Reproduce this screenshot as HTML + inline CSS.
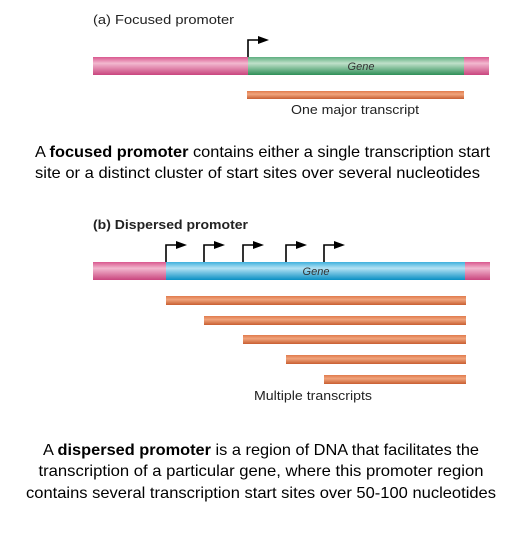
<!DOCTYPE html>
<html><head><meta charset="utf-8"><style>body{margin:0;background:#fff}svg{display:block}</style></head><body>
<svg width="522" height="536" viewBox="0 0 522 536" xmlns="http://www.w3.org/2000/svg" font-family="Liberation Sans, sans-serif">
<defs>
<linearGradient id="pk" x1="0" y1="0" x2="0" y2="1"><stop offset="0" stop-color="#d9588f"/><stop offset="0.35" stop-color="#f2b8cf"/><stop offset="1" stop-color="#c9457e"/></linearGradient>
<linearGradient id="gr" x1="0" y1="0" x2="0" y2="1"><stop offset="0" stop-color="#5fae80"/><stop offset="0.35" stop-color="#bfe0c9"/><stop offset="1" stop-color="#2f8f58"/></linearGradient>
<linearGradient id="bl" x1="0" y1="0" x2="0" y2="1"><stop offset="0" stop-color="#3fb0dd"/><stop offset="0.35" stop-color="#b3e2f4"/><stop offset="1" stop-color="#0a8fc4"/></linearGradient>
<linearGradient id="or" x1="0" y1="0" x2="0" y2="1"><stop offset="0" stop-color="#e07a4c"/><stop offset="0.4" stop-color="#f0a47c"/><stop offset="1" stop-color="#c85f32"/></linearGradient>
<g id="arr"><path d="M0 0 V-17 H12" fill="none" stroke="#000" stroke-width="1.6"/><path d="M10 -21 L21 -17 L10 -13 Z" fill="#000"/></g>
</defs>
<text x="93" y="24" font-size="13" fill="#222" textLength="141" lengthAdjust="spacingAndGlyphs">(a) Focused promoter</text>
<rect x="93" y="57" width="155" height="18" fill="url(#pk)"/>
<rect x="248" y="57" width="216" height="18" fill="url(#gr)"/>
<rect x="464" y="57" width="25" height="18" fill="url(#pk)"/>
<text x="361" y="70" font-size="11" font-style="italic" fill="#333" text-anchor="middle">Gene</text>
<use href="#arr" x="248" y="57"/>
<rect x="247" y="91" width="217" height="8" fill="url(#or)"/>
<text x="355" y="114" font-size="12.5" fill="#222" text-anchor="middle" textLength="128" lengthAdjust="spacingAndGlyphs">One major transcript</text>
<text x="35" y="157" font-size="16" fill="#000" textLength="455" lengthAdjust="spacingAndGlyphs">A <tspan font-weight="bold">focused promoter</tspan> contains either a single transcription start</text>
<text x="35" y="178" font-size="16" fill="#000" textLength="445" lengthAdjust="spacingAndGlyphs">site or a distinct cluster of start sites over several nucleotides</text>
<text x="93" y="229" font-size="13" fill="#222" font-weight="bold" textLength="155" lengthAdjust="spacingAndGlyphs">(b) Dispersed promoter</text>
<rect x="93" y="262" width="73" height="18" fill="url(#pk)"/>
<rect x="166" y="262" width="299" height="18" fill="url(#bl)"/>
<rect x="465" y="262" width="25" height="18" fill="url(#pk)"/>
<text x="316" y="275" font-size="11" font-style="italic" fill="#333" text-anchor="middle">Gene</text>
<use href="#arr" x="166" y="262"/><use href="#arr" x="204" y="262"/><use href="#arr" x="243" y="262"/><use href="#arr" x="286" y="262"/><use href="#arr" x="324" y="262"/>
<rect x="166" y="296" width="300" height="9" fill="url(#or)"/>
<rect x="204" y="316" width="262" height="9" fill="url(#or)"/>
<rect x="243" y="335" width="223" height="9" fill="url(#or)"/>
<rect x="286" y="355" width="180" height="9" fill="url(#or)"/>
<rect x="324" y="375" width="142" height="9" fill="url(#or)"/>
<text x="313" y="400" font-size="12.5" fill="#222" text-anchor="middle" textLength="118" lengthAdjust="spacingAndGlyphs">Multiple transcripts</text>
<text x="261" y="455" font-size="16" fill="#000" text-anchor="middle" textLength="436" lengthAdjust="spacingAndGlyphs">A <tspan font-weight="bold">dispersed promoter</tspan> is a region of DNA that facilitates the</text>
<text x="261" y="476" font-size="16" fill="#000" text-anchor="middle" textLength="445" lengthAdjust="spacingAndGlyphs">transcription of a particular gene, where this promoter region</text>
<text x="261" y="498" font-size="16" fill="#000" text-anchor="middle" textLength="470" lengthAdjust="spacingAndGlyphs">contains several transcription start sites over 50-100 nucleotides</text>
</svg>
</body></html>
